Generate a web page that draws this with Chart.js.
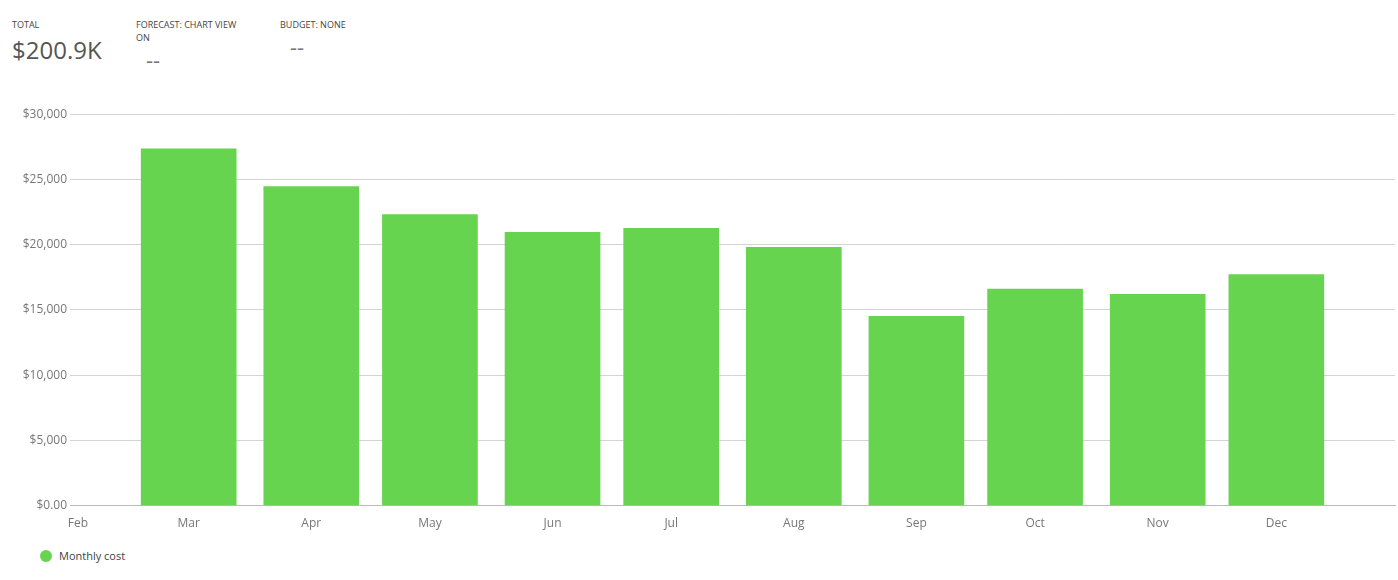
<!DOCTYPE html>
<html lang="en">
<head>
    <meta charset="UTF-8">
    <title>Monthly cost</title>
    <script src="https://cdn.jsdelivr.net/npm/chart.js"></script>
    <style>
        body { margin: 0; background: #fff; font-family: "Open Sans", "Noto Sans", sans-serif; color: #444; }
        .stats { position: absolute; top: 18px; left: 12px; display: flex; }
        .stat { margin-right: 28px; }
        .stat .lbl { font-size: 9px; color: #444; text-transform: uppercase; }
        .stat .val { font-size: 24px; color: #555; margin-top: 2px; }
        .stat .dash { font-size: 22px; color: #777; padding-left: 10px; }
        .chart-box { position: absolute; left: 0; top: 104px; width: 1398px; height: 430px; }
        .legend { position: absolute; left: 40px; top: 548px; font-size: 11px; color: #444; display: flex; align-items: center; }
        .legend span.dot { width: 12px; height: 12px; border-radius: 50%; background: #66d44e; margin-right: 7px; display: inline-block; }
    </style>
</head>
<body>
    <div class="stats">
        <div class="stat" style="width:96px"><div class="lbl">Total</div><div class="val">$200.9K</div></div>
        <div class="stat" style="width:116px"><div class="lbl">Forecast: chart view on</div><div class="dash">--</div></div>
        <div class="stat"><div class="lbl">Budget: none</div><div class="dash">--</div></div>
    </div>
    <div class="chart-box"><canvas id="costChart"></canvas></div>
    <div class="legend"><span class="dot"></span>Monthly cost</div>

    <script>
        // day-of-year for the first of each month, used as x positions
        const monthNames = ['Feb', 'Mar', 'Apr', 'May', 'Jun', 'Jul', 'Aug', 'Sep', 'Oct', 'Nov', 'Dec'];
        const monthDays = [32, 60, 91, 121, 152, 182, 213, 244, 274, 305, 335];
        const costValues = [null, 27350, 24450, 22300, 20950, 21250, 19800, 14500, 16600, 16200, 17700];

        const points = monthDays.map((d, i) => ({ x: d, y: costValues[i] })).filter(p => p.y !== null);

        new Chart(document.getElementById('costChart'), {
            type: 'bar',
            data: {
                datasets: [{
                    label: 'Monthly cost',
                    data: points,
                    backgroundColor: '#66d44e',
                    barThickness: 95
                }]
            },
            options: {
                responsive: true,
                maintainAspectRatio: false,
                animation: false,
                layout: { padding: { left: 0, right: 3, top: 0, bottom: 0 } },
                plugins: { legend: { display: false }, tooltip: { enabled: false } },
                scales: {
                    x: {
                        type: 'linear',
                        min: 30,
                        max: 365,
                        offset: false,
                        afterBuildTicks: axis => { axis.ticks = monthDays.map(v => ({ value: v })); },
                        ticks: {
                            autoSkip: false,
                            maxRotation: 0,
                            color: '#777',
                            font: { family: 'Open Sans', size: 12 },
                            callback: v => monthNames[monthDays.indexOf(v)]
                        },
                        grid: { display: false },
                        border: { color: '#bbb' }
                    },
                    y: {
                        min: 0,
                        max: 30000,
                        afterFit: axis => { axis.width = 70; },
                        ticks: {
                            stepSize: 5000,
                            color: '#777',
                            font: { family: 'Open Sans', size: 12 },
                            callback: v => v === 0 ? '$0.00' : '$' + v.toLocaleString('en-US')
                        },
                        grid: { color: '#d4d4d4', drawTicks: false },
                        border: { display: false }
                    }
                }
            }
        });
    </script>
</body>
</html>
